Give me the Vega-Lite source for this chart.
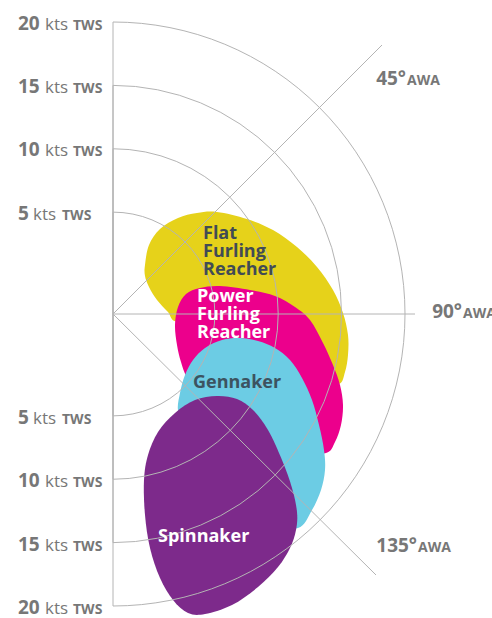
{
  "$schema": "https://vega.github.io/schema/vega-lite/v6.json",
  "width": 492,
  "height": 618,
  "padding": 0,
  "autosize": {"type": "none"},
  "config": {"view": {"stroke": null}},
  "datasets": {
    "sails": [
      {"sail": "Flat Furling Reacher", "i": 1, "x": 32, "y": 49},
      {"sail": "Flat Furling Reacher", "i": 2, "x": 36, "y": 69},
      {"sail": "Flat Furling Reacher", "i": 3, "x": 47, "y": 85},
      {"sail": "Flat Furling Reacher", "i": 4, "x": 65, "y": 96},
      {"sail": "Flat Furling Reacher", "i": 5, "x": 84, "y": 101},
      {"sail": "Flat Furling Reacher", "i": 6, "x": 104, "y": 102},
      {"sail": "Flat Furling Reacher", "i": 7, "x": 134, "y": 95},
      {"sail": "Flat Furling Reacher", "i": 8, "x": 160, "y": 84},
      {"sail": "Flat Furling Reacher", "i": 9, "x": 184, "y": 67},
      {"sail": "Flat Furling Reacher", "i": 10, "x": 204, "y": 47},
      {"sail": "Flat Furling Reacher", "i": 11, "x": 220, "y": 24},
      {"sail": "Flat Furling Reacher", "i": 12, "x": 230, "y": 1},
      {"sail": "Flat Furling Reacher", "i": 13, "x": 235, "y": -21},
      {"sail": "Flat Furling Reacher", "i": 14, "x": 235, "y": -41},
      {"sail": "Flat Furling Reacher", "i": 15, "x": 232, "y": -58},
      {"sail": "Flat Furling Reacher", "i": 16, "x": 226, "y": -70},
      {"sail": "Flat Furling Reacher", "i": 17, "x": 207, "y": -66},
      {"sail": "Flat Furling Reacher", "i": 18, "x": 167, "y": -26},
      {"sail": "Flat Furling Reacher", "i": 19, "x": 107, "y": -6},
      {"sail": "Flat Furling Reacher", "i": 20, "x": 65, "y": -8},
      {"sail": "Flat Furling Reacher", "i": 21, "x": 55, "y": 2},
      {"sail": "Flat Furling Reacher", "i": 22, "x": 44, "y": 14},
      {"sail": "Flat Furling Reacher", "i": 23, "x": 36, "y": 27},
      {"sail": "Flat Furling Reacher", "i": 24, "x": 32, "y": 38},
      {"sail": "Power Furling Reacher", "i": 1, "x": 64, "y": -31},
      {"sail": "Power Furling Reacher", "i": 2, "x": 62, "y": -11},
      {"sail": "Power Furling Reacher", "i": 3, "x": 65, "y": 7},
      {"sail": "Power Furling Reacher", "i": 4, "x": 73, "y": 20},
      {"sail": "Power Furling Reacher", "i": 5, "x": 87, "y": 26},
      {"sail": "Power Furling Reacher", "i": 6, "x": 107, "y": 28},
      {"sail": "Power Furling Reacher", "i": 7, "x": 137, "y": 24},
      {"sail": "Power Furling Reacher", "i": 8, "x": 162, "y": 18},
      {"sail": "Power Furling Reacher", "i": 9, "x": 182, "y": 7},
      {"sail": "Power Furling Reacher", "i": 10, "x": 197, "y": -6},
      {"sail": "Power Furling Reacher", "i": 11, "x": 210, "y": -29},
      {"sail": "Power Furling Reacher", "i": 12, "x": 220, "y": -51},
      {"sail": "Power Furling Reacher", "i": 13, "x": 227, "y": -71},
      {"sail": "Power Furling Reacher", "i": 14, "x": 230, "y": -91},
      {"sail": "Power Furling Reacher", "i": 15, "x": 228, "y": -111},
      {"sail": "Power Furling Reacher", "i": 16, "x": 222, "y": -128},
      {"sail": "Power Furling Reacher", "i": 17, "x": 213, "y": -139},
      {"sail": "Power Furling Reacher", "i": 18, "x": 187, "y": -136},
      {"sail": "Power Furling Reacher", "i": 19, "x": 137, "y": -106},
      {"sail": "Power Furling Reacher", "i": 20, "x": 87, "y": -86},
      {"sail": "Power Furling Reacher", "i": 21, "x": 74, "y": -64},
      {"sail": "Power Furling Reacher", "i": 22, "x": 68, "y": -48},
      {"sail": "Gennaker", "i": 1, "x": 65, "y": -96},
      {"sail": "Gennaker", "i": 2, "x": 67, "y": -79},
      {"sail": "Gennaker", "i": 3, "x": 72, "y": -61},
      {"sail": "Gennaker", "i": 4, "x": 80, "y": -46},
      {"sail": "Gennaker", "i": 5, "x": 92, "y": -34},
      {"sail": "Gennaker", "i": 6, "x": 109, "y": -26},
      {"sail": "Gennaker", "i": 7, "x": 127, "y": -24},
      {"sail": "Gennaker", "i": 8, "x": 145, "y": -27},
      {"sail": "Gennaker", "i": 9, "x": 162, "y": -34},
      {"sail": "Gennaker", "i": 10, "x": 177, "y": -46},
      {"sail": "Gennaker", "i": 11, "x": 189, "y": -64},
      {"sail": "Gennaker", "i": 12, "x": 199, "y": -86},
      {"sail": "Gennaker", "i": 13, "x": 206, "y": -111},
      {"sail": "Gennaker", "i": 14, "x": 211, "y": -136},
      {"sail": "Gennaker", "i": 15, "x": 212, "y": -156},
      {"sail": "Gennaker", "i": 16, "x": 208, "y": -176},
      {"sail": "Gennaker", "i": 17, "x": 199, "y": -196},
      {"sail": "Gennaker", "i": 18, "x": 185, "y": -214},
      {"sail": "Gennaker", "i": 19, "x": 157, "y": -206},
      {"sail": "Gennaker", "i": 20, "x": 107, "y": -136},
      {"sail": "Gennaker", "i": 21, "x": 72, "y": -106},
      {"sail": "Spinnaker", "i": 1, "x": 104, "y": -82},
      {"sail": "Spinnaker", "i": 2, "x": 124, "y": -85},
      {"sail": "Spinnaker", "i": 3, "x": 140, "y": -96},
      {"sail": "Spinnaker", "i": 4, "x": 155, "y": -116},
      {"sail": "Spinnaker", "i": 5, "x": 169, "y": -146},
      {"sail": "Spinnaker", "i": 6, "x": 179, "y": -174},
      {"sail": "Spinnaker", "i": 7, "x": 184, "y": -198},
      {"sail": "Spinnaker", "i": 8, "x": 183, "y": -216},
      {"sail": "Spinnaker", "i": 9, "x": 177, "y": -234},
      {"sail": "Spinnaker", "i": 10, "x": 165, "y": -253},
      {"sail": "Spinnaker", "i": 11, "x": 145, "y": -273},
      {"sail": "Spinnaker", "i": 12, "x": 119, "y": -291},
      {"sail": "Spinnaker", "i": 13, "x": 92, "y": -300},
      {"sail": "Spinnaker", "i": 14, "x": 75, "y": -299},
      {"sail": "Spinnaker", "i": 15, "x": 60, "y": -286},
      {"sail": "Spinnaker", "i": 16, "x": 47, "y": -264},
      {"sail": "Spinnaker", "i": 17, "x": 37, "y": -234},
      {"sail": "Spinnaker", "i": 18, "x": 32, "y": -201},
      {"sail": "Spinnaker", "i": 19, "x": 31, "y": -166},
      {"sail": "Spinnaker", "i": 20, "x": 35, "y": -141},
      {"sail": "Spinnaker", "i": 21, "x": 45, "y": -118},
      {"sail": "Spinnaker", "i": 22, "x": 62, "y": -99},
      {"sail": "Spinnaker", "i": 23, "x": 82, "y": -86}
    ],
    "sailLabels": [
      {"sail": "Flat Furling Reacher", "label": "Flat\nFurling\nReacher", "x": 90, "y": 75},
      {"sail": "Power Furling Reacher", "label": "Power\nFurling\nReacher", "x": 84, "y": 12},
      {"sail": "Gennaker", "label": "Gennaker", "x": 80, "y": -74},
      {"sail": "Spinnaker", "label": "Spinnaker", "x": 45, "y": -228}
    ],
    "tws": [
      {"kts": 5, "num": "5", "y": 102},
      {"kts": 10, "num": "10", "y": 165.5},
      {"kts": 15, "num": "15", "y": 229},
      {"kts": 20, "num": "20", "y": 292},
      {"kts": 5, "num": "5", "y": -102},
      {"kts": 10, "num": "10", "y": -165.5},
      {"kts": 15, "num": "15", "y": -229},
      {"kts": 20, "num": "20", "y": -292}
    ],
    "rings": [
      {"kts": 5, "a0": 0, "a1": 180},
      {"kts": 10, "a0": 0, "a1": 180},
      {"kts": 15, "a0": 0, "a1": 180},
      {"kts": 20, "a0": 0, "a1": 180}
    ],
    "spokes": [
      {"awa": 45, "sx": 0, "sy": 0, "ex": 269, "ey": 269},
      {"awa": 90, "sx": 0, "sy": 0, "ex": 302, "ey": 0},
      {"awa": 135, "sx": 0, "sy": 0, "ex": 263, "ey": -261}
    ],
    "awaLabels": [
      {"num": "45°", "x": 293, "y": 229},
      {"num": "90°", "x": 349, "y": -4},
      {"num": "135°", "x": 304, "y": -238}
    ]
  },
  "layer": [
    {
      "data": {"name": "sails"},
      "transform": [{"filter": "datum.sail === 'Flat Furling Reacher'"}],
      "mark": {"type": "line", "interpolate": "cardinal-closed", "fill": "#e6d21a", "stroke": "#e6d21a", "strokeWidth": 0},
      "encoding": {
        "x": {"field": "x", "type": "quantitative", "axis": null, "scale": {"domain": [-113, 379], "nice": false, "zero": false}},
        "y": {"field": "y", "type": "quantitative", "axis": null, "scale": {"domain": [-304, 314], "nice": false, "zero": false}},
        "order": {"field": "i", "type": "quantitative"}
      }
    },
    {
      "data": {"name": "sails"},
      "transform": [{"filter": "datum.sail === 'Power Furling Reacher'"}],
      "mark": {"type": "line", "interpolate": "cardinal-closed", "fill": "#ec008c", "stroke": "#ec008c", "strokeWidth": 0},
      "encoding": {
        "x": {"field": "x", "type": "quantitative"},
        "y": {"field": "y", "type": "quantitative"},
        "order": {"field": "i", "type": "quantitative"}
      }
    },
    {
      "data": {"name": "sails"},
      "transform": [{"filter": "datum.sail === 'Gennaker'"}],
      "mark": {"type": "line", "interpolate": "cardinal-closed", "fill": "#6ccce4", "stroke": "#6ccce4", "strokeWidth": 0},
      "encoding": {
        "x": {"field": "x", "type": "quantitative"},
        "y": {"field": "y", "type": "quantitative"},
        "order": {"field": "i", "type": "quantitative"}
      }
    },
    {
      "data": {"name": "sails"},
      "transform": [{"filter": "datum.sail === 'Spinnaker'"}],
      "mark": {"type": "line", "interpolate": "cardinal-closed", "fill": "#7d2a8b", "stroke": "#7d2a8b", "strokeWidth": 0},
      "encoding": {
        "x": {"field": "x", "type": "quantitative"},
        "y": {"field": "y", "type": "quantitative"},
        "order": {"field": "i", "type": "quantitative"}
      }
    },
    {
      "data": {"name": "rings"},
      "mark": {"type": "arc", "fill": "transparent", "stroke": "#b4b4b4", "strokeWidth": 1},
      "encoding": {
        "x": {"datum": 0, "type": "quantitative"},
        "y": {"datum": 0, "type": "quantitative"},
        "theta": {"field": "a0", "type": "quantitative", "scale": {"type": "linear", "domain": [0, 360], "range": [0, 6.283185307]}},
        "theta2": {"field": "a1"},
        "radius": {"field": "kts", "type": "quantitative", "scale": {"type": "linear", "domain": [0, 20], "range": [38.5, 292], "zero": false}},
        "radius2": {"value": 0}
      }
    },
    {
      "data": {"name": "spokes"},
      "mark": {"type": "rule", "stroke": "#b4b4b4", "strokeWidth": 1},
      "encoding": {
        "x": {"field": "sx", "type": "quantitative"},
        "y": {"field": "sy", "type": "quantitative"},
        "x2": {"field": "ex"},
        "y2": {"field": "ey"}
      }
    },
    {
      "data": {"name": "sailLabels"},
      "mark": {"type": "text", "align": "left", "baseline": "alphabetic", "font": "Open Sans", "fontWeight": "bold", "fontSize": 18, "lineBreak": "\n", "lineHeight": 18},
      "encoding": {
        "x": {"field": "x", "type": "quantitative"},
        "y": {"field": "y", "type": "quantitative"},
        "text": {"field": "label"},
        "color": {"field": "sail", "type": "nominal", "legend": null,
          "scale": {"domain": ["Flat Furling Reacher", "Power Furling Reacher", "Gennaker", "Spinnaker"], "range": ["#414b55", "#ffffff", "#3c5360", "#ffffff"]}}
      }
    },
    {
      "data": {"name": "tws"},
      "mark": {"type": "text", "align": "left", "baseline": "alphabetic", "dx": -95, "dy": 7.5, "font": "Open Sans", "fontWeight": "bold", "fontSize": 19, "fill": "#777777"},
      "encoding": {
        "x": {"datum": 0, "type": "quantitative"},
        "y": {"field": "y", "type": "quantitative"},
        "text": {"field": "num"}
      }
    },
    {
      "data": {"name": "tws"},
      "transform": [{"filter": "datum.kts >= 10"}],
      "mark": {"type": "text", "align": "left", "baseline": "alphabetic", "dx": -68, "dy": 7.5, "font": "Open Sans", "fontSize": 17, "fill": "#777777"},
      "encoding": {
        "x": {"datum": 0, "type": "quantitative"},
        "y": {"field": "y", "type": "quantitative"},
        "text": {"value": "kts"}
      }
    },
    {
      "data": {"name": "tws"},
      "transform": [{"filter": "datum.kts < 10"}],
      "mark": {"type": "text", "align": "left", "baseline": "alphabetic", "dx": -80, "dy": 7.5, "font": "Open Sans", "fontSize": 17, "fill": "#777777"},
      "encoding": {
        "x": {"datum": 0, "type": "quantitative"},
        "y": {"field": "y", "type": "quantitative"},
        "text": {"value": "kts"}
      }
    },
    {
      "data": {"name": "tws"},
      "transform": [{"filter": "datum.kts >= 10"}],
      "mark": {"type": "text", "align": "left", "baseline": "alphabetic", "dx": -40, "dy": 7.5, "font": "Open Sans", "fontWeight": "bold", "fontSize": 14, "fill": "#777777"},
      "encoding": {
        "x": {"datum": 0, "type": "quantitative"},
        "y": {"field": "y", "type": "quantitative"},
        "text": {"value": "TWS"}
      }
    },
    {
      "data": {"name": "tws"},
      "transform": [{"filter": "datum.kts < 10"}],
      "mark": {"type": "text", "align": "left", "baseline": "alphabetic", "dx": -51, "dy": 7.5, "font": "Open Sans", "fontWeight": "bold", "fontSize": 14, "fill": "#777777"},
      "encoding": {
        "x": {"datum": 0, "type": "quantitative"},
        "y": {"field": "y", "type": "quantitative"},
        "text": {"value": "TWS"}
      }
    },
    {
      "data": {"name": "awaLabels"},
      "mark": {"type": "text", "align": "right", "baseline": "alphabetic", "font": "Open Sans", "fontWeight": "bold", "fontSize": 19, "fill": "#777777"},
      "encoding": {
        "x": {"field": "x", "type": "quantitative"},
        "y": {"field": "y", "type": "quantitative"},
        "text": {"field": "num"}
      }
    },
    {
      "data": {"name": "awaLabels"},
      "mark": {"type": "text", "align": "left", "baseline": "alphabetic", "dx": 1, "font": "Open Sans", "fontWeight": "bold", "fontSize": 14, "fill": "#777777"},
      "encoding": {
        "x": {"field": "x", "type": "quantitative"},
        "y": {"field": "y", "type": "quantitative"},
        "text": {"value": "AWA"}
      }
    }
  ]
}
